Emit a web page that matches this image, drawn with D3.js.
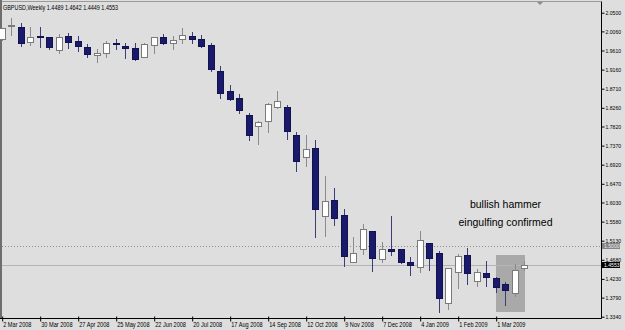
<!DOCTYPE html>
<html>
<head>
<meta charset="utf-8">
<script src="https://cdn.jsdelivr.net/npm/d3@7"></script>
<style>
  body { margin: 0; background: #dedede; }
  svg { display: block; }
  text { font-family: "Liberation Sans", Arial, sans-serif; }
</style>
</head>
<body>
<div id="chart-area"></div>
<script>
// GBPUSD weekly candles, first week = 2 Mar 2008
var firstWeek = "2 Mar 2008";
var opens  = [1.9874,2.0180,2.0156,1.9803,1.9951,1.9921,1.9622,1.9951,1.9834,1.9699,
              1.9497,1.9544,1.9793,1.9723,1.9676,1.9450,1.9732,1.9935,1.9793,1.9881,
              1.9951,1.9888,1.9739,1.9127,1.8649,1.8498,1.8098,1.7839,1.7956,1.8286,
              1.8272,1.7613,1.7109,1.7306,1.5712,1.6089,1.5747,1.4636,1.4928,1.5366,
              1.4692,1.4935,1.4928,1.4636,1.4518,1.5083,1.4848,1.3656,1.4400,1.4793,
              1.4188,1.4377,1.4259,1.4110,1.3905,1.4489];
var highs  = [2.0140,2.0368,2.0250,2.0170,2.0170,1.9925,1.9998,2.0015,1.9951,1.9763,
              1.9638,1.9826,1.9874,1.9779,1.9793,1.9779,1.9935,1.9998,1.9951,2.0140,
              2.0053,1.9968,1.9779,1.9245,1.8790,1.8578,1.8131,1.7956,1.8366,1.8663,
              1.8326,1.7683,1.7620,1.7502,1.6654,1.6378,1.5877,1.5224,1.5524,1.5366,
              1.5093,1.5712,1.4935,1.4753,1.5359,1.5083,1.4888,1.4480,1.4817,1.4951,
              1.4457,1.4652,1.4282,1.4164,1.4581,1.4642];
var lows   = [1.9850,1.9975,1.9716,1.9739,1.9699,1.9638,1.9558,1.9662,1.9605,1.9450,
              1.9339,1.9450,1.9638,1.9426,1.9379,1.9450,1.9558,1.9763,1.9638,1.9793,
              1.9793,1.9699,1.9127,1.8498,1.8444,1.8145,1.7502,1.7408,1.7697,1.8248,
              1.7518,1.6772,1.6897,1.5224,1.5241,1.5500,1.4534,1.4636,1.4810,1.4424,
              1.4636,1.4793,1.4605,1.4322,1.4400,1.4440,1.3458,1.3522,1.4023,1.4110,
              1.4063,1.4063,1.3929,1.3616,1.3828,1.4449];
var closes = [2.0133,2.0210,1.9779,1.9921,1.9928,1.9699,1.9935,1.9817,1.9723,1.9520,
              1.9558,1.9793,1.9770,1.9676,1.9417,1.9756,1.9935,1.9793,1.9857,1.9975,
              1.9881,1.9716,1.9181,1.8616,1.8475,1.8208,1.7613,1.7919,1.8343,1.8420,
              1.7721,1.7014,1.7290,1.5877,1.6065,1.5653,1.4777,1.4848,1.5399,1.4716,
              1.4928,1.4888,1.4617,1.4558,1.5147,1.4716,1.3774,1.4480,1.4777,1.4377,
              1.4400,1.4282,1.4047,1.3969,1.4440,1.4553];

var dateLabels  = ["2 Mar 2008","30 Mar 2008","27 Apr 2008","25 May 2008","22 Jun 2008",
                   "20 Jul 2008","17 Aug 2008","14 Sep 2008","12 Oct 2008","9 Nov 2008",
                   "7 Dec 2008","4 Jan 2009","1 Feb 2009","1 Mar 2009"];
var priceLabels = ["2.0500","2.0060","1.9610","1.9160","1.8710","1.8260","1.7820","1.7370",
                   "1.6920","1.6470","1.6030","1.5580","1.5130","1.4680","1.4230","1.3790","1.3340"];

var levelLine = 1.5000;   // dotted horizontal line
var bidPrice = 1.4553;    // current price line
var boxWeeks = ["1 Mar 2009", "22 Mar 2009"];
var boxPrices = [1.4790, 1.3458];
var notes = ["bullish hammer", "eingulfing confirmed"];
var notePrices = [1.589, 1.547];

var width = 625, height = 330;
var plotRight = 601, plotBottom = 318;

var parse = d3.utcParse("%d %b %Y");
var start = parse(firstWeek);
var data = opens.map(function(o, i) {
    return {date: d3.utcWeek.offset(start, i), o: o, h: highs[i], l: lows[i], c: closes[i]};
});

var svg = d3.select("#chart-area").append("svg")
    .attr("width", width)
    .attr("height", height);

svg.append("rect").attr("width", width).attr("height", height).attr("fill", "#dedede");

var x = d3.scaleUtc()
    .domain([data[0].date, data[data.length - 1].date])
    .range([1.7, 524.2]);

var y = d3.scaleLinear()
    .domain([1.334, 2.05])
    .range([316.7, 12.7]);

// frame
svg.append("line").attr("x1", 0).attr("x2", plotRight).attr("y1", 1.5).attr("y2", 1.5)
    .attr("stroke", "#9a9a9a");
svg.append("rect").attr("x", 0).attr("y", 0).attr("width", 2).attr("height", plotBottom)
    .attr("fill", "#6e6e6e");

// rectangle object
svg.append("rect")
    .attr("x", Math.round(x(parse(boxWeeks[0]))))
    .attr("y", Math.round(y(boxPrices[0])))
    .attr("width", Math.round(x(parse(boxWeeks[1]))) - Math.round(x(parse(boxWeeks[0]))) + 1)
    .attr("height", Math.round(y(boxPrices[1])) - Math.round(y(boxPrices[0])))
    .attr("fill", "#a9a9a9");

// level lines
svg.append("line")
    .attr("x1", 2).attr("x2", plotRight)
    .attr("y1", Math.round(y(levelLine)) + 0.5).attr("y2", Math.round(y(levelLine)) + 0.5)
    .attr("stroke", "#8c8c8c").attr("stroke-dasharray", "1,2");
svg.append("line")
    .attr("x1", 2).attr("x2", plotRight)
    .attr("y1", Math.round(y(bidPrice)) + 0.5).attr("y2", Math.round(y(bidPrice)) + 0.5)
    .attr("stroke", "#b4b4b4");

// candles
var candles = svg.append("g").selectAll("g")
    .data(data)
    .enter().append("g");

candles.append("line")
    .attr("x1", function(d) { return Math.round(x(d.date)) + 0.5; })
    .attr("x2", function(d) { return Math.round(x(d.date)) + 0.5; })
    .attr("y1", function(d) { return Math.round(y(d.h)); })
    .attr("y2", function(d) { return Math.round(y(d.l)) + 1; })
    .attr("stroke", function(d) { return d.c >= d.o ? "#8a8a8a" : "#3c3c78"; });

candles.append("rect")
    .attr("x", function(d) { return Math.round(x(d.date)) - 2.5; })
    .attr("y", function(d) { return Math.round(y(Math.max(d.o, d.c))) + 0.5; })
    .attr("width", 6)
    .attr("height", function(d) {
        return Math.max(0, Math.round(y(Math.min(d.o, d.c))) - Math.round(y(Math.max(d.o, d.c))));
    })
    .attr("fill", function(d) { return d.c >= d.o ? "#ffffff" : "#1a1a6c"; })
    .attr("stroke", function(d) { return d.c >= d.o ? "#7a7a7a" : "#12124e"; });

// notes
svg.selectAll(".note")
    .data(notes)
    .enter().append("text")
    .attr("class", "note")
    .attr("x", 505.5)
    .attr("y", function(d, i) { return y(notePrices[i]); })
    .attr("text-anchor", "middle")
    .attr("font-size", "10.5px")
    .attr("fill", "#000")
    .text(function(d) { return d; });

// header
svg.append("text")
    .attr("transform", "translate(3,9.5) scale(0.78,1)")
    .attr("font-size", "7px")
    .attr("fill", "#000")
    .text("GBPUSD,Weekly  1.4489 1.4642 1.4449 1.4553");

// shift marker
svg.append("path")
    .attr("d", "M537,2 L543,2 L540,5 Z")
    .attr("fill", "#8c8c8c");

// right price axis
var rightAxis = d3.axisRight(y)
    .tickValues(priceLabels.map(Number))
    .tickFormat(function(d, i) { return priceLabels[i]; })
    .tickSize(3);

var ra = svg.append("g")
    .attr("transform", "translate(" + (plotRight + 0.5) + ",0)")
    .call(rightAxis);
ra.select(".domain").attr("d", "M0,1.5V" + (plotBottom + 0.5)).attr("stroke", "#000");
ra.selectAll(".tick text")
    .attr("x", 0)
    .attr("transform", "translate(4,0) scale(0.85,1)")
    .attr("font-size", "6px")
    .attr("fill", "#000");

// price boxes on the axis
function priceBox(v, fill, txt) {
    var yy = Math.round(y(v));
    svg.append("rect").attr("x", plotRight + 1).attr("y", yy - 3)
        .attr("width", 18).attr("height", 6).attr("fill", fill);
    svg.append("text")
        .attr("transform", "translate(" + (plotRight + 3) + "," + (yy + 2) + ") scale(0.85,1)")
        .attr("font-size", "6px").attr("fill", txt)
        .text(v.toFixed(4));
}
priceBox(levelLine, "#858585", "#e8e8e8");
priceBox(bidPrice, "#000000", "#ffffff");

// bottom time axis
var bottomAxis = d3.axisBottom(x)
    .tickValues(dateLabels.map(parse))
    .tickFormat(function(d, i) { return dateLabels[i]; })
    .tickSize(0);

var ba = svg.append("g")
    .attr("transform", "translate(0," + (plotBottom + 0.5) + ")")
    .call(bottomAxis);
ba.select(".domain").attr("d", "M0,0H" + (plotRight + 0.5)).attr("stroke", "#000");
ba.selectAll(".tick line").attr("y1", -2).attr("y2", 3).attr("stroke", "#000")
    .attr("transform", "translate(0.5,0)");
ba.selectAll(".tick text")
    .attr("text-anchor", "start")
    .attr("x", 0)
    .attr("y", 0)
    .attr("dy", null)
    .attr("transform", "translate(1,8.5) scale(0.8,1)")
    .attr("font-size", "7px")
    .attr("fill", "#000");
</script>
</body>
</html>
